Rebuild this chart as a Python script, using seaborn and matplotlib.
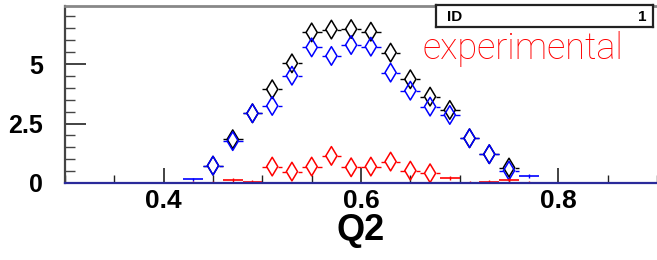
import numpy as np
import pandas as pd
import seaborn as sns
import matplotlib.pyplot as plt
from matplotlib.ticker import MultipleLocator, FixedLocator

# Data: bin centres (width 0.02) and contents
bin_centers = np.round(np.arange(0.31, 0.90, 0.02), 2)
bin_width = 0.02

black_vals = [0, 0, 0, 0, 0, 0, 0, 0.73, 1.84, 2.93, 3.94, 5.03, 6.33, 6.45, 6.47,
              6.36, 5.48, 4.36, 3.63, 3.07, 1.88, 1.21, 0.65, 0, 0, 0, 0, 0, 0, 0]
blue_vals = [0, 0, 0, 0, 0, 0, 0.15, 0.73, 1.76, 2.93, 3.24, 4.51, 5.70, 5.34, 5.80,
             5.73, 4.64, 3.88, 3.21, 2.86, 1.88, 1.21, 0.52, 0.30, 0, 0, 0, 0, 0, 0]
red_vals = [0, 0, 0, 0, 0, 0, 0.02, 0.02, 0.13, 0.05, 0.69, 0.48, 0.69, 1.14, 0.66,
            0.69, 0.90, 0.52, 0.41, 0.20, 0.01, 0.04, 0.11, 0.01, 0, 0, 0, 0, 0, 0]

series_names = ["black", "blue", "red"]
series_colors = {"black": "#000000", "blue": "#0000ff", "red": "#ff0000"}

xticks = [0.4, 0.6, 0.8]
xticklabels = ["0.4", "0.6", "0.8"]
yticks = [0, 2.5, 5]
yticklabels = ["0", "2.5", "5"]

df = pd.concat([
    pd.DataFrame({"Q2": bin_centers, "val": vals, "series": name})
    for name, vals in zip(series_names, [black_vals, blue_vals, red_vals])
])
df = df[df["val"] > 0]
# ROOT drops the marker when it would poke through the frame
df["marker"] = df["val"] > 0.35

sns.set_style("ticks")
plt.rcParams["font.family"] = ["Liberation Sans", "DejaVu Sans"]

fig = plt.figure(figsize=(6.57, 2.6), dpi=100)
ax = fig.add_axes([65 / 657, 1 - 183 / 260, 592 / 657, 177 / 260])

half = bin_width / 2
gap = 0.0057
for name in series_names:
    d = df[df["series"] == name]
    c = series_colors[name]
    m = d[d["marker"]]
    nm = d[~d["marker"]]
    # horizontal error bars, broken by the marker
    ax.hlines(m["val"], m["Q2"] - half, m["Q2"] - gap, color=c, lw=1)
    ax.hlines(m["val"], m["Q2"] + gap, m["Q2"] + half, color=c, lw=1)
    # bins too low for a marker: plain cross
    ax.hlines(nm["val"], nm["Q2"] - half, nm["Q2"] + half, color=c, lw=1.2)
    ax.vlines(nm["Q2"], nm["val"] - 0.08, nm["val"] + 0.08, color=c, lw=1)
    sns.scatterplot(data=m, x="Q2", y="val", marker="d", s=90,
                    facecolors="none", edgecolor=c, linewidth=1.1,
                    ax=ax, legend=False)

ax.set_xlim(0.3, 0.9)
ax.set_ylim(0, 7.44)

ax.xaxis.set_major_locator(FixedLocator(xticks))
ax.set_xticklabels(xticklabels)
ax.xaxis.set_minor_locator(MultipleLocator(0.05))
ax.yaxis.set_major_locator(FixedLocator(yticks))
ax.set_yticklabels(yticklabels)
ax.yaxis.set_minor_locator(MultipleLocator(0.5))

ax.tick_params(axis="x", which="major", direction="in", length=11, width=1.2,
               labelsize=19, pad=4, top=False, colors="#222222")
ax.tick_params(axis="x", which="minor", direction="in", length=6, width=1,
               top=False, color="#222222")
ax.tick_params(axis="y", which="major", direction="in", length=15, width=1.2,
               labelsize=18, pad=16, right=False, colors="#222222")
ax.tick_params(axis="y", which="minor", direction="in", length=7, width=1,
               right=False, color="#444444")
for lab in ax.get_xticklabels() + ax.get_yticklabels():
    lab.set_fontweight("bold")
    lab.set_color("black")

ax.set_xlabel("Q2", fontsize=26, fontweight="bold", color="black", labelpad=0)
ax.set_ylabel("")

ax.spines["right"].set_visible(False)
ax.spines["top"].set_color("#888888")
ax.spines["top"].set_linewidth(2)
ax.spines["left"].set_color("#444444")
ax.spines["left"].set_linewidth(1.6)
ax.spines["bottom"].set_color("#2a2a9a")
ax.spines["bottom"].set_linewidth(1.6)

# stat box
box = fig.add_axes([436 / 657, 1 - 27 / 260, 217 / 657, 22 / 260])
box.set_xticks([])
box.set_yticks([])
for sp in box.spines.values():
    sp.set_linewidth(1.6)
    sp.set_color("#222222")
box.text(0.05, 0.45, "ID", fontsize=11, fontweight="bold", va="center", ha="left",
         color="black", transform=box.transAxes)
box.text(0.97, 0.45, "1", fontsize=11, fontweight="bold", va="center", ha="right",
         color="black", transform=box.transAxes)

fig.text(422 / 657, 1 - 59 / 260, "experimental", color="#ff0000", fontsize=26,
         family=["Roboto", "DejaVu Sans"], fontweight="light", ha="left", va="baseline")

fig.savefig("out.png", dpi=100)
